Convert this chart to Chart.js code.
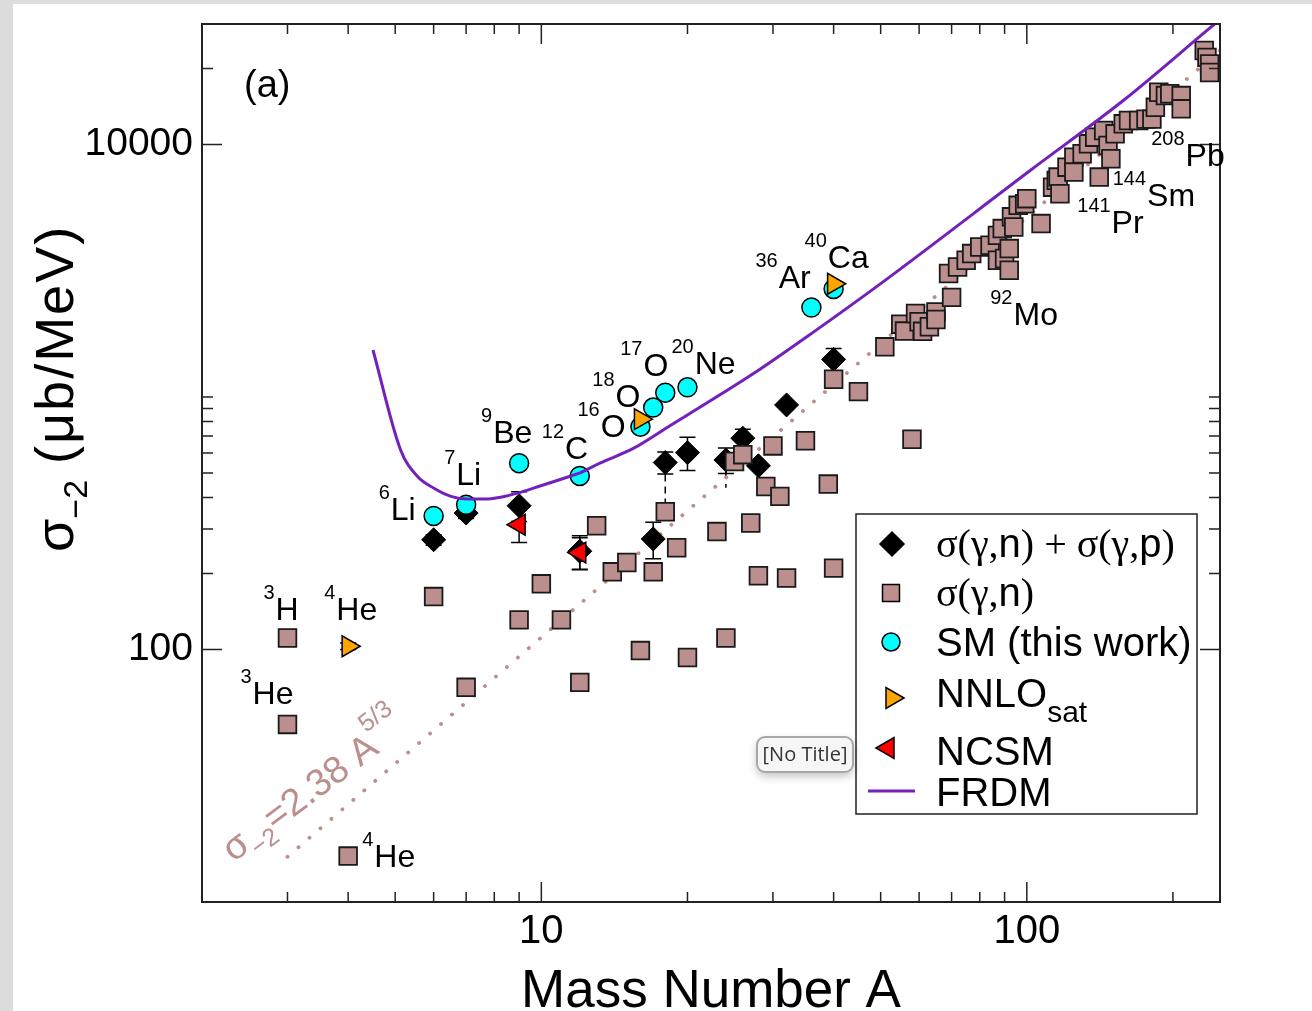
<!DOCTYPE html>
<html>
<head>
<meta charset="utf-8">
<script src="https://cdn.jsdelivr.net/npm/chart.js@4.4.1/dist/chart.umd.min.js"></script>
<style>
  body { margin: 0; background: #fff; }
  canvas { display: block; }
</style>
</head>
<body>
<canvas id="grafico" width="1312" height="1011"></canvas>
<script>
// ---- dados ----
// sigma(gamma,n) + sigma(gamma,p)  (losangos pretos)
var somaA   = [6, 7, 9, 12, 17, 18, 20, 24, 26, 28, 32, 40];
var somaSig = [272, 347, 371, 245, 274, 550, 602, 563, 687, 534, 930, 1409];
var somaErr = [13, 17, 50, 37, 45, 55, 90, 65, 58, 0, 0, 148];

// trecho tracejado abaixo de alguns losangos
var tracoA    = [18, 24];
var tracoDe   = [550, 563];
var tracoAte  = [351, 437];

// sigma(gamma,n)  (quadrados)
var gnA = [3, 3, 4, 6, 7, 9, 10, 11, 12, 13, 14, 15, 16, 17, 18, 19, 20, 23, 24, 25,
           26, 27, 28, 29, 30, 31, 32, 35, 39, 40, 40, 45, 51, 55, 56, 58, 59, 60, 61, 63,
           65, 65, 69, 70, 72, 75, 77, 80, 84, 87, 87, 89, 90, 92, 92, 93, 94, 96, 99, 100,
           107, 113, 115, 116, 117, 121, 125, 125, 130, 134, 138, 141, 144, 147, 149, 152, 158, 162, 170, 176,
           181, 184, 187, 193, 197, 208, 208, 232, 235, 238, 238];
var gnSig = [111, 50.5, 15.2, 162, 70.8, 131, 182, 131, 74.1, 309, 203, 221, 99, 203, 351, 253, 93, 293, 111, 555,
             591, 317, 196, 442, 640, 404, 192, 671, 452, 1175, 210, 1050, 1580, 1943, 1824, 680, 2141, 1986, 1820, 1897,
             2173, 2028, 3083, 2480, 3273, 3479, 3698, 3926, 3989, 4365, 3479, 4645, 3535, 3870, 3177, 5169, 4713, 5741, 5822, 6100,
             4860, 6776, 7209, 7428, 6384, 8130, 8907, 7773, 9188, 10060, 10690, 7428, 11360, 9911, 8779, 11020, 12070, 12440, 12440, 12600,
             12600, 14030, 16100, 15620, 15880, 15620, 13840, 23550, 22130, 20840, 19270];

// SM (this work)
var smA   = [6, 7, 9, 12, 16, 17, 18, 20, 36, 40];
var smSig = [338, 374, 547, 487, 763, 908, 1040, 1092, 2261, 2680];

// NNLOsat
var nnloA   = [4, 16, 40];
var nnloSig = [103, 817, 2807];
var nnloErr = [3, 0, 0];

// NCSM
var ncsmA   = [9, 12];
var ncsmSig = [312, 242];
var ncsmErr = [47, 35];

// FRDM
var frdmA   = [4.5, 5.13, 5.56, 6.01, 6.51, 7.04, 7.62, 8.25, 8.93, 9.97, 11.3, 12.05, 13.2, 15.5, 18.2, 20, 27.4, 36.4, 50, 101.6, 158, 234.7, 250];
var frdmSig = [1535, 617, 484, 435, 404, 394, 394, 401, 416, 445, 481, 502, 547, 627, 759, 849, 1241, 1811, 2812, 7888, 14930, 28220, 31260];

// reta pontilhada sigma_-2 = 2.38 A^(5/3), extremos lidos
var ajusteA   = [3, 250];
var ajusteSig = [15.1, 23600];

// marcas dos eixos
var xMaiores = [10, 100];
var xMenores = [3, 4, 5, 6, 7, 8, 9, 20, 30, 40, 50, 60, 70, 80, 90, 200];
var yMaiores = [100, 10000];
var yMenores = [200, 300, 400, 500, 600, 700, 800, 900, 1000, 20000];

// rótulos dos núcleos (ancorados num ponto)
var rotulos = [
    { sup: '3', nome: 'H', A: 3, s: 111, dx: -24, dy: -18 },
    { sup: '4', nome: 'He', A: 4, s: 103, dx: -24, dy: -26 },
    { sup: '3', nome: 'He', A: 3, s: 50.5, dx: -47, dy: -20 },
    { sup: '4', nome: 'He', A: 4, s: 15.2, dx: 14, dy: 11 },
    { sup: '6', nome: 'Li', A: 6, s: 338, dx: -55, dy: 4 },
    { sup: '7', nome: 'Li', A: 7, s: 374, dx: -22, dy: -20 },
    { sup: '9', nome: 'Be', A: 9, s: 547, dx: -38, dy: -20 },
    { sup: '12', nome: 'C', A: 12, s: 487, dx: -38, dy: -17 },
    { sup: '16', nome: 'O', A: 16, s: 763, dx: -63, dy: 10 },
    { sup: '18', nome: 'O', A: 18, s: 1040, dx: -73, dy: 14 },
    { sup: '17', nome: 'O', A: 17, s: 908, dx: -33, dy: -32 },
    { sup: '20', nome: 'Ne', A: 20, s: 1092, dx: -16, dy: -13 },
    { sup: '36', nome: 'Ar', A: 36, s: 2261, dx: -56, dy: -20 },
    { sup: '40', nome: 'Ca', A: 40, s: 2680, dx: -29, dy: -21 },
    { sup: '92', nome: 'Mo', A: 92, s: 3177, dx: -19, dy: 55 },
    { sup: '141', nome: 'Pr', A: 141, s: 7428, dx: -22, dy: 56 },
    { sup: '144', nome: 'Sm', A: 144, s: 11360, dx: 9, dy: 76 },
    { sup: '208', nome: 'Pb', A: 208, s: 15620, dx: -30, dy: 70 }
];

var SANS = '"Liberation Sans", Arial, Helvetica, sans-serif';
var SERIF = '"Liberation Serif", "Times New Roman", serif';
var MARROM = '#bc8f8f';
var INDIGO = '#7221bc';

function pares(xs, ys) {
    return xs.map(function (a, i) { return { x: a, y: ys[i] }; });
}

// desenha uma sequência de trechos {t, f, dy}
function trechos(ctx, x, y, lista) {
    for (var i in lista) {
        ctx.font = lista[i].f;
        ctx.fillText(lista[i].t, x, y + (lista[i].dy || 0));
        x += ctx.measureText(lista[i].t).width;
    }
    return x;
}

function marcador(ctx, tipo, x, y, r, cor) {
    ctx.save();
    ctx.beginPath();
    if (tipo === 'losango') {
        ctx.moveTo(x, y - r); ctx.lineTo(x + r, y); ctx.lineTo(x, y + r); ctx.lineTo(x - r, y);
    } else if (tipo === 'quadrado') {
        var h = r * Math.SQRT1_2;
        ctx.rect(x - h, y - h, 2 * h, 2 * h);
    } else if (tipo === 'circulo') {
        ctx.arc(x, y, r, 0, Math.PI * 2);
    } else if (tipo === 'direita') {
        ctx.moveTo(x + r, y); ctx.lineTo(x - r / 2, y - r * 0.866); ctx.lineTo(x - r / 2, y + r * 0.866);
    } else if (tipo === 'esquerda') {
        ctx.moveTo(x - r, y); ctx.lineTo(x + r / 2, y - r * 0.866); ctx.lineTo(x + r / 2, y + r * 0.866);
    }
    ctx.closePath();
    ctx.fillStyle = cor;
    ctx.fill();
    ctx.lineWidth = 1.5;
    ctx.strokeStyle = '#000';
    ctx.stroke();
    ctx.restore();
}

var desenhos = {
    id: 'desenhos',
    beforeDraw: function (chart) {
        var ctx = chart.ctx;
        ctx.save();
        ctx.fillStyle = '#dcdcdc';
        ctx.fillRect(0, 0, chart.width, chart.height);
        ctx.fillStyle = '#ffffff';
        ctx.fillRect(13, 4, chart.width - 13, chart.height - 4);
        ctx.restore();
    },
    beforeDatasetsDraw: function (chart) {
        var ctx = chart.ctx, sx = chart.scales.x, sy = chart.scales.y;
        ctx.save();
        ctx.strokeStyle = '#000';
        ctx.lineWidth = 1.5;
        // tracejados
        ctx.setLineDash([7, 5]);
        for (var k in tracoA) {
            var px = sx.getPixelForValue(tracoA[k]);
            ctx.beginPath();
            ctx.moveTo(px, sy.getPixelForValue(tracoDe[k]));
            ctx.lineTo(px, sy.getPixelForValue(tracoAte[k]));
            ctx.stroke();
        }
        ctx.setLineDash([]);
        function barras(xs, ys, es) {
            for (var i in xs) {
                if (!es[i]) continue;
                var x = sx.getPixelForValue(xs[i]);
                var y1 = sy.getPixelForValue(ys[i] + es[i]);
                var y2 = sy.getPixelForValue(ys[i] - es[i]);
                ctx.beginPath();
                ctx.moveTo(x, y1); ctx.lineTo(x, y2);
                ctx.moveTo(x - 8, y1); ctx.lineTo(x + 8, y1);
                ctx.moveTo(x - 8, y2); ctx.lineTo(x + 8, y2);
                ctx.stroke();
            }
        }
        barras(somaA, somaSig, somaErr);
        barras(ncsmA, ncsmSig, ncsmErr);
        barras(nnloA, nnloSig, nnloErr);
        ctx.restore();
    },
    afterDraw: function (chart) {
        var ctx = chart.ctx, sx = chart.scales.x, sy = chart.scales.y, a = chart.chartArea;
        ctx.save();

        // moldura e marcas para dentro
        ctx.strokeStyle = '#222';
        ctx.lineWidth = 2;
        ctx.strokeRect(a.left, a.top, a.right - a.left, a.bottom - a.top);
        ctx.lineWidth = 1.5;
        ctx.beginPath();
        function marcasX(vals, len) {
            vals.forEach(function (v) {
                var p = sx.getPixelForValue(v);
                ctx.moveTo(p, a.bottom); ctx.lineTo(p, a.bottom - len);
                ctx.moveTo(p, a.top); ctx.lineTo(p, a.top + len);
            });
        }
        function marcasY(vals, len) {
            vals.forEach(function (v) {
                var p = sy.getPixelForValue(v);
                ctx.moveTo(a.left, p); ctx.lineTo(a.left + len, p);
                ctx.moveTo(a.right, p); ctx.lineTo(a.right - len, p);
            });
        }
        marcasX(xMaiores, 20); marcasX(xMenores, 10);
        marcasY(yMaiores, 20); marcasY(yMenores, 11);
        ctx.stroke();

        ctx.fillStyle = '#000';
        ctx.textBaseline = 'alphabetic';

        // (a)
        ctx.font = '38px ' + SANS;
        ctx.fillText('(a)', 244, 97);

        // rótulos dos núcleos
        rotulos.forEach(function (r) {
            var x = sx.getPixelForValue(r.A) + r.dx;
            var y = sy.getPixelForValue(r.s) + r.dy;
            ctx.font = '20px ' + SANS;
            ctx.fillText(r.sup, x, y - 21);
            var w = ctx.measureText(r.sup).width;
            ctx.font = '32px ' + SANS;
            ctx.fillText(r.nome, x + w + 1, y);
        });

        // fórmula da reta pontilhada
        var ox = sx.getPixelForValue(ajusteA[0]) - 54;
        var oy = sy.getPixelForValue(ajusteSig[0]) + 6;
        ctx.save();
        ctx.translate(ox, oy);
        ctx.rotate(-37 * Math.PI / 180);
        ctx.fillStyle = MARROM;
        trechos(ctx, 0, 0, [
            { t: 'σ', f: '38px ' + SANS },
            { t: '−2', f: '25px ' + SANS, dy: 10 },
            { t: '=2.38 A', f: '38px ' + SANS },
            { t: '5/3', f: '25px ' + SANS, dy: -24 }
        ]);
        ctx.restore();

        // título do eixo y
        ctx.save();
        ctx.translate(73, 552);
        ctx.rotate(-Math.PI / 2);
        trechos(ctx, 0, 0, [
            { t: 'σ', f: '54px ' + SANS },
            { t: '−2', f: '34px ' + SANS, dy: 14 }
        ]);
        ctx.letterSpacing = '2px';
        trechos(ctx, 88, 0, [{ t: '(μb/MeV)', f: '54px ' + SANS }]);
        ctx.letterSpacing = '0px';
        ctx.restore();

        // título do eixo x
        ctx.font = '53px ' + SANS;
        ctx.textAlign = 'center';
        ctx.fillText('Mass Number A', (a.left + a.right) / 2, 1007);
        ctx.textAlign = 'left';

        // legenda
        ctx.fillStyle = '#fff';
        ctx.fillRect(856, 514, 341, 300);
        ctx.strokeStyle = '#222';
        ctx.lineWidth = 1.5;
        ctx.strokeRect(856, 514, 341, 300);
        marcador(ctx, 'losango', 892, 544, 12, '#000');
        marcador(ctx, 'quadrado', 891, 593, 12, MARROM);
        marcador(ctx, 'circulo', 891, 642, 9, '#00ffff');
        marcador(ctx, 'direita', 892, 698, 12, '#ffa500');
        marcador(ctx, 'esquerda', 888, 748, 12, '#ff0000');
        ctx.strokeStyle = INDIGO;
        ctx.lineWidth = 3;
        ctx.beginPath(); ctx.moveTo(868, 791); ctx.lineTo(915, 791); ctx.stroke();

        ctx.fillStyle = '#000';
        var f40 = '40px ' + SANS, s40 = '40px ' + SERIF;
        trechos(ctx, 936, 557, [
            { t: 'σ(γ,', f: s40 }, { t: 'n', f: f40 }, { t: ') + σ(γ,', f: s40 }, { t: 'p', f: f40 }, { t: ')', f: s40 }
        ]);
        trechos(ctx, 936, 606, [{ t: 'σ(γ,', f: s40 }, { t: 'n', f: f40 }, { t: ')', f: s40 }]);
        trechos(ctx, 936, 656, [{ t: 'SM (this work)', f: f40 }]);
        trechos(ctx, 936, 707, [{ t: 'NNLO', f: f40 }, { t: 'sat', f: '30px ' + SANS, dy: 15 }]);
        trechos(ctx, 936, 765, [{ t: 'NCSM', f: f40 }]);
        trechos(ctx, 936, 806, [{ t: 'FRDM', f: f40 }]);

        // etiqueta "[No Title]"
        ctx.save();
        ctx.shadowColor = 'rgba(0,0,0,0.25)';
        ctx.shadowBlur = 10;
        ctx.shadowOffsetY = 4;
        ctx.beginPath();
        ctx.roundRect(757, 737, 96, 35, 8);
        ctx.fillStyle = '#f6f6f6';
        ctx.fill();
        ctx.restore();
        ctx.beginPath();
        ctx.roundRect(757, 737, 96, 35, 8);
        ctx.strokeStyle = '#a8a8a8';
        ctx.lineWidth = 2;
        ctx.stroke();
        ctx.fillStyle = '#333';
        ctx.font = '20px "Open Sans", ' + SANS;
        ctx.textAlign = 'center';
        ctx.textBaseline = 'middle';
        ctx.fillText('[No Title]', 805, 755);

        ctx.restore();
    }
};

var ctx = document.getElementById('grafico').getContext('2d');

var chart = new Chart(ctx, {
    type: 'scatter',
    data: {
        datasets: [{
            label: 'FRDM',
            type: 'line',
            data: pares(frdmA, frdmSig),
            showLine: true,
            borderColor: INDIGO,
            borderWidth: 3,
            pointRadius: 0,
            cubicInterpolationMode: 'monotone',
            order: 0
        }, {
            label: 'NCSM',
            data: pares(ncsmA, ncsmSig),
            pointStyle: 'triangle',
            pointRotation: -90,
            pointRadius: 12,
            backgroundColor: '#ff0000',
            borderColor: '#000',
            borderWidth: 1.5,
            order: 1
        }, {
            label: 'NNLOsat',
            data: pares(nnloA, nnloSig),
            pointStyle: 'triangle',
            pointRotation: 90,
            pointRadius: 12,
            backgroundColor: '#ffa500',
            borderColor: '#000',
            borderWidth: 1.5,
            order: 2
        }, {
            label: 'SM (this work)',
            data: pares(smA, smSig),
            pointStyle: 'circle',
            pointRadius: 9.5,
            backgroundColor: '#00ffff',
            borderColor: '#000',
            borderWidth: 1.5,
            order: 3
        }, {
            label: 'σ(γ,n)',
            data: pares(gnA, gnSig),
            pointStyle: 'rect',
            pointRadius: 12.5,
            backgroundColor: MARROM,
            borderColor: '#1a1a1a',
            borderWidth: 1.8,
            order: 4
        }, {
            label: 'σ(γ,n) + σ(γ,p)',
            data: pares(somaA, somaSig),
            pointStyle: 'rectRot',
            pointRadius: 12,
            backgroundColor: '#000',
            borderColor: '#000',
            borderWidth: 1,
            order: 5
        }, {
            label: '2.38 A^5/3',
            type: 'line',
            data: pares(ajusteA, ajusteSig),
            showLine: true,
            borderColor: MARROM,
            borderWidth: 3.8,
            borderDash: [0.1, 14.4],
            borderCapStyle: 'round',
            pointRadius: 0,
            order: 6
        }]
    },
    options: {
        responsive: false,
        devicePixelRatio: 1,
        animation: false,
        events: [],
        layout: { padding: { left: 0, right: 92, top: 24, bottom: 0 } },
        plugins: { legend: { display: false }, tooltip: { enabled: false } },
        scales: {
            x: {
                type: 'logarithmic',
                position: 'bottom',
                min: 2,
                max: 250,
                grid: { display: false, drawTicks: false },
                border: { display: false },
                ticks: {
                    autoSkip: false,
                    maxRotation: 0,
                    padding: 6,
                    color: '#000',
                    font: { size: 40, family: SANS },
                    callback: function (v) { return String(v); }
                },
                afterBuildTicks: function (s) {
                    s.ticks = xMaiores.map(function (v) { return { value: v }; });
                },
                afterFit: function (s) {
                    s.height = 109;
                    s.paddingLeft = 0; s.paddingRight = 0;
                }
            },
            y: {
                type: 'logarithmic',
                position: 'left',
                min: 10,
                max: 30000,
                grid: { display: false, drawTicks: false },
                border: { display: false },
                ticks: {
                    autoSkip: false,
                    padding: 9,
                    color: '#000',
                    font: { size: 39, family: SANS },
                    callback: function (v) { return String(v); }
                },
                afterBuildTicks: function (s) {
                    s.ticks = yMaiores.map(function (v) { return { value: v }; });
                },
                afterFit: function (s) {
                    s.width = 202;
                    s.paddingTop = 0; s.paddingBottom = 0;
                }
            }
        }
    },
    plugins: [desenhos]
});
</script>
</body>
</html>
